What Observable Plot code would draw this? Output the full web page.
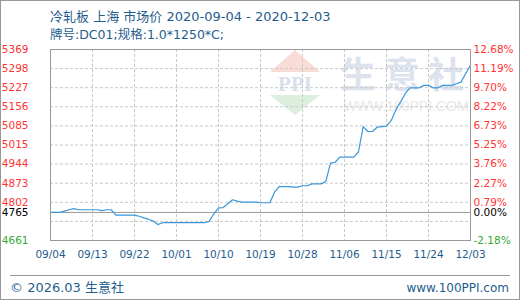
<!DOCTYPE html>
<html><head><meta charset="utf-8">
<script src="https://cdn.jsdelivr.net/npm/d3@7"></script>
<script src="https://cdn.jsdelivr.net/npm/@observablehq/plot@0.6"></script>
<style>
html,body{margin:0;padding:0;background:#fff;}
#chart{width:520px;height:300px;position:relative;}
</style></head>
<body><div id="chart"></div>
<script>
const titleText = "冷轧板 上海 市场价 2020-09-04 - 2020-12-03";
const subtitleText = "牌号:DC01;规格:1.0*1250*C;";
const footerLeft = "© 2026.03 生意社";
const footerRight = "www.100PPI.com";

const dates = ["2020-09-04","2020-09-06","2020-09-07","2020-09-08","2020-09-09","2020-09-10","2020-09-14","2020-09-15","2020-09-16","2020-09-17","2020-09-18","2020-09-22","2020-09-23","2020-09-24","2020-09-25","2020-09-26","2020-09-27","2020-09-28","2020-10-07","2020-10-08","2020-10-09","2020-10-10","2020-10-11","2020-10-12","2020-10-13","2020-10-14","2020-10-15","2020-10-18","2020-10-19","2020-10-21","2020-10-22","2020-10-23","2020-10-25","2020-10-26","2020-10-27","2020-10-28","2020-10-29","2020-10-30","2020-11-01","2020-11-02","2020-11-03","2020-11-04","2020-11-05","2020-11-08","2020-11-09","2020-11-10","2020-11-11","2020-11-12","2020-11-13","2020-11-15","2020-11-16","2020-11-17","2020-11-18","2020-11-19","2020-11-20","2020-11-22","2020-11-23","2020-11-24","2020-11-25","2020-11-26","2020-11-27","2020-11-29","2020-11-30","2020-12-01","2020-12-02","2020-12-03"];
const prices = [4765,4765,4770,4775,4779,4775,4775,4772,4775,4775,4755,4755,4751,4745,4740,4733,4720,4727,4727,4732,4760,4782,4783,4797,4812,4807,4803,4803,4801,4801,4840,4861,4861,4859,4859,4864,4864,4871,4871,4880,4948,4951,4970,4970,4990,5083,5065,5065,5081,5085,5105,5145,5174,5205,5227,5227,5236,5236,5227,5227,5236,5236,5242,5249,5281,5310];

const baseValue = 4765;
const baseLabel = "4765";
const baseRightLabel = "0.00%";
const yTickValues = [4661,4731.8,4802.6,4873.4,4944.2,5015,5085.8,5156.6,5227.4,5298.2,5369];
const yLeftLabels = ["4661","","4802","4873","4944","5015","5085","5156","5227","5298","5369"];
const yRightLabels = ["-2.18%","","0.79%","2.27%","3.76%","5.25%","6.73%","8.22%","9.70%","11.19%","12.68%"];
const xTickDates = ["2020-09-04","2020-09-13","2020-09-22","2020-10-01","2020-10-10","2020-10-19","2020-10-28","2020-11-06","2020-11-15","2020-11-24","2020-12-03"];
const xTickLabels = ["09/04","09/13","09/22","10/01","10/10","10/19","10/28","11/06","11/15","11/24","12/03"];

const data = dates.map((d, i) => ({date: new Date(d), price: prices[i]}));
const yTicks = yTickValues.map((v, i) => ({v, left: yLeftLabels[i], right: yRightLabels[i]}));
const xTicks = xTickDates.map((d, i) => ({d: new Date(d), label: xTickLabels[i]}));
const colorFor = v => v < baseValue ? "#33aa33" : "#ff3333";
const font = "DejaVu Sans, sans-serif";
const mixFont = "DejaVu Sans, Noto Sans CJK SC, sans-serif";

const chart = Plot.plot({
  width: 520, height: 300,
  marginTop: 49, marginBottom: 60, marginLeft: 50, marginRight: 50,
  style: {fontFamily: font, fontSize: "10px", background: "#fff", overflow: "visible"},
  x: {type: "utc", domain: [new Date(dates[0]), new Date(dates[dates.length-1])], axis: null},
  y: {domain: [yTickValues[0], yTickValues[yTickValues.length-1]], axis: null},
  marks: [
    Plot.gridX(xTicks.map(t => t.d), {stroke: "#c8c8c8", strokeOpacity: 1, strokeDasharray: "3,2"}),
    Plot.gridY(yTickValues, {stroke: "#c8c8c8", strokeOpacity: 1, strokeDasharray: "3,2"}),
    Plot.ruleY([baseValue], {stroke: "#999"}),
    Plot.line(data, {x: "date", y: "price", stroke: "#3a98d8", strokeWidth: 1.2}),
    Plot.frame({stroke: "#999"}),
    Plot.text(yTicks.filter(t => t.left), {y: "v", text: "left", frameAnchor: "left", textAnchor: "end", dx: -22, fill: d => colorFor(d.v), fontSize: 10.5}),
    Plot.text(yTicks.filter(t => t.right), {y: "v", text: "right", frameAnchor: "right", textAnchor: "start", dx: 3, fill: d => colorFor(d.v), fontSize: 10.5}),
    Plot.text([baseValue], {y: d => d, text: () => baseLabel, frameAnchor: "left", textAnchor: "end", dx: -22, fill: "#000", fontSize: 10.5}),
    Plot.text([baseValue], {y: d => d, text: () => baseRightLabel, frameAnchor: "right", textAnchor: "start", dx: 3, fill: "#000", fontSize: 10.5}),
    Plot.text(xTicks, {x: "d", text: "label", frameAnchor: "bottom", dy: 17, fill: "#1f5d8c", fontSize: 10.5})
  ]
});
document.getElementById("chart").appendChild(chart);

const svg = d3.select(chart);
// watermark
const wm = svg.insert("g", ":first-child");
wm.append("polygon").attr("points", "295,50 270,72 320,72").attr("fill", "#f9dcd6");
wm.append("text").attr("x", 295).attr("y", 91).attr("text-anchor", "middle").attr("font-family", "Liberation Serif, serif").attr("font-weight", "bold").attr("font-size", 21).attr("fill", "#d9e0ec").text("PPI");
wm.append("polygon").attr("points", "270,95 320,95 295,115").attr("fill", "#dcefdf");
wm.append("text").attr("x", 406).attr("y", 88).attr("text-anchor", "middle").attr("font-family", "Noto Sans CJK SC, sans-serif").attr("font-weight", "bold").attr("font-size", 36).attr("letter-spacing", 8).attr("fill", "#dde3ee").text("生意社");
wm.append("text").attr("x", 406).attr("y", 111).attr("text-anchor", "middle").attr("font-family", "Liberation Sans, sans-serif").attr("font-size", 14).attr("fill", "#e8e8e8").text("WWW.100PPI.COM");
wm.insert("rect", ":first-child").attr("x", 0).attr("y", 0).attr("width", 520).attr("height", 300).attr("fill", "#fff");

// titles
svg.append("text").attr("x", 50).attr("y", 21).attr("text-anchor", "start").attr("font-family", mixFont).attr("font-size", 13).attr("fill", "#1f5d8c").text(titleText);
svg.append("text").attr("x", 50).attr("y", 39).attr("text-anchor", "start").attr("font-family", mixFont).attr("font-size", 12.5).attr("fill", "#1f5d8c").text(subtitleText);
// footer
svg.append("line").attr("x1", 10).attr("x2", 510).attr("y1", 275.5).attr("y2", 275.5).attr("stroke", "#999");
svg.append("text").attr("x", 10).attr("y", 292).attr("text-anchor", "start").attr("font-family", mixFont).attr("font-size", 13).attr("fill", "#1f5d8c").text(footerLeft);
svg.append("text").attr("x", 509).attr("y", 292).attr("text-anchor", "end").attr("font-family", "DejaVu Sans, sans-serif").attr("font-size", 12).attr("fill", "#1f5d8c").text(footerRight);
// outer border
svg.append("rect").attr("x", 0.5).attr("y", 0.5).attr("width", 519).attr("height", 299).attr("fill", "none").attr("stroke", "#999");
</script></body></html>
